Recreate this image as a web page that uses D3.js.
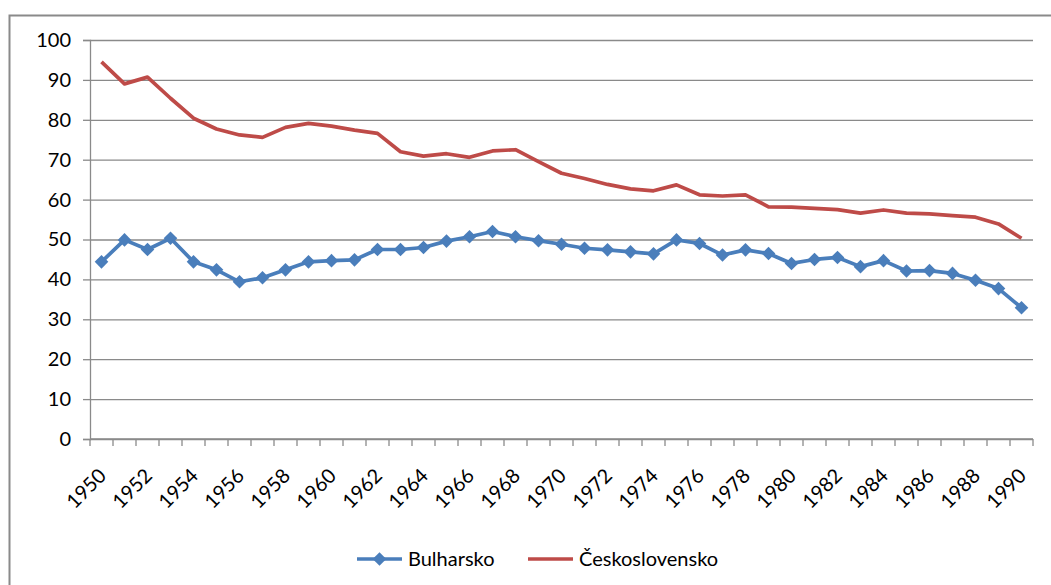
<!DOCTYPE html>
<html>
<head>
<meta charset="utf-8">
<script src="https://cdn.jsdelivr.net/npm/d3@7"></script>
<style>
  body { margin: 0; background: #fff; }
  text { font-family: Lato, "Open Sans", sans-serif; fill: #000; }
</style>
</head>
<body>
<script>
// data
var years = d3.range(1950, 1991);
var bulharsko = [44.4, 49.9, 47.5, 50.3, 44.4, 42.4, 39.4, 40.4, 42.4, 44.4,
                 44.7, 44.9, 47.5, 47.5, 48.0, 49.6, 50.7, 52.0, 50.7, 49.7,
                 48.8, 47.8, 47.4, 46.9, 46.4, 49.9, 49.0, 46.1, 47.4, 46.5,
                 44.0, 45.0, 45.5, 43.2, 44.7, 42.1, 42.2, 41.5, 39.8, 37.7,
                 32.9];
var ceskoslovensko = [94.5, 89.0, 90.7, 85.4, 80.4, 77.7, 76.2, 75.6, 78.1, 79.1,
                      78.4, 77.4, 76.6, 72.0, 70.9, 71.5, 70.6, 72.2, 72.5, 69.5,
                      66.6, 65.3, 63.8, 62.7, 62.2, 63.7, 61.2, 60.9, 61.2, 58.2,
                      58.1, 57.8, 57.5, 56.6, 57.4, 56.6, 56.4, 56.0, 55.6, 53.9,
                      50.3];
var yTicks = [0, 10, 20, 30, 40, 50, 60, 70, 80, 90, 100];
var seriesNames = ["Bulharsko", "Československo"];

var blue = "#4a7ebb", red = "#be4b48", gridColor = "#8a8a8a";

var W = 1051, H = 585;
var plot = { left: 90, right: 1033, top: 40, bottom: 439 };

var svg = d3.select("body").append("svg")
    .attr("width", W)
    .attr("height", H);

// chart border
svg.append("rect")
    .attr("x", 9.5).attr("y", 15.5)
    .attr("width", 1100).attr("height", 700)
    .attr("fill", "#fff")
    .attr("stroke", gridColor)
    .attr("stroke-width", 2);

var x = d3.scaleBand()
    .domain(years)
    .range([plot.left, plot.right])
    .padding(0);

var y = d3.scaleLinear()
    .domain([0, 100])
    .range([plot.bottom, plot.top]);

var cx = function(d) { return x(d) + x.bandwidth() / 2; };

// gridlines
svg.append("g")
    .attr("transform", "translate(" + plot.left + ",0)")
    .call(d3.axisLeft(y).tickValues(yTicks).tickSize(-(plot.right - plot.left)).tickFormat(""))
    .call(g => g.select(".domain").remove())
    .call(g => g.selectAll("line").attr("stroke", gridColor).attr("stroke-width", 1.3));

// y axis with labels
svg.append("g")
    .attr("transform", "translate(" + plot.left + ",0)")
    .call(d3.axisLeft(y).tickValues(yTicks).tickSize(7).tickPadding(12))
    .call(g => g.select(".domain").attr("stroke", gridColor).attr("stroke-width", 1.3))
    .call(g => g.selectAll("line").attr("stroke", gridColor).attr("stroke-width", 1.3))
    .call(g => g.selectAll("text").attr("font-size", 20).attr("font-family", "Lato").attr("fill", "#000"));

// x axis: ticks between categories
var xAxis = svg.append("g");
xAxis.append("line")
    .attr("x1", plot.left).attr("x2", plot.right)
    .attr("y1", y(0)).attr("y2", y(0))
    .attr("stroke", gridColor).attr("stroke-width", 1.3);
xAxis.selectAll("line.tick")
    .data(years.concat([null]))
    .enter().append("line")
    .attr("class", "tick")
    .attr("x1", d => d === null ? plot.right : x(d))
    .attr("x2", d => d === null ? plot.right : x(d))
    .attr("y1", y(0)).attr("y2", y(0) + 7)
    .attr("stroke", gridColor).attr("stroke-width", 1.3);
xAxis.selectAll("text")
    .data(years.filter(d => d % 2 === 0))
    .enter().append("text")
    .attr("transform", d => "translate(" + (cx(d) + 6) + "," + (y(0) + 38) + ")rotate(-45)")
    .attr("text-anchor", "end")
    .attr("font-size", 20)
    .text(d => d);

// lines
var line = d3.line()
    .x((d, i) => cx(years[i]))
    .y(d => y(d));

svg.append("path")
    .datum(ceskoslovensko)
    .attr("d", line)
    .attr("fill", "none")
    .attr("stroke", red)
    .attr("stroke-width", 3.7)
    .attr("stroke-linejoin", "round");

svg.append("path")
    .datum(bulharsko)
    .attr("d", line)
    .attr("fill", "none")
    .attr("stroke", blue)
    .attr("stroke-width", 3.7)
    .attr("stroke-linejoin", "round");

var diamond = d3.symbol().type(d3.symbolDiamond2).size(118);

svg.selectAll("path.marker")
    .data(bulharsko)
    .enter().append("path")
    .attr("class", "marker")
    .attr("d", diamond)
    .attr("transform", (d, i) => "translate(" + cx(years[i]) + "," + y(d) + ")")
    .attr("fill", blue);

// legend
var legend = svg.append("g");
var legendItems = [
  { name: seriesNames[0], color: blue, x0: 357, marker: true },
  { name: seriesNames[1], color: red, x0: 528, marker: false }
];
legendItems.forEach(function(item) {
  legend.append("line")
      .attr("x1", item.x0).attr("x2", item.x0 + 45)
      .attr("y1", 559).attr("y2", 559)
      .attr("stroke", item.color).attr("stroke-width", 3.7);
  if (item.marker) {
    legend.append("path")
        .attr("d", diamond)
        .attr("transform", "translate(" + (item.x0 + 22.5) + ",559)")
        .attr("fill", item.color);
  }
  legend.append("text")
      .attr("x", item.x0 + 51)
      .attr("y", 566)
      .attr("font-size", 20)
      .text(item.name);
});
</script>
</body>
</html>
